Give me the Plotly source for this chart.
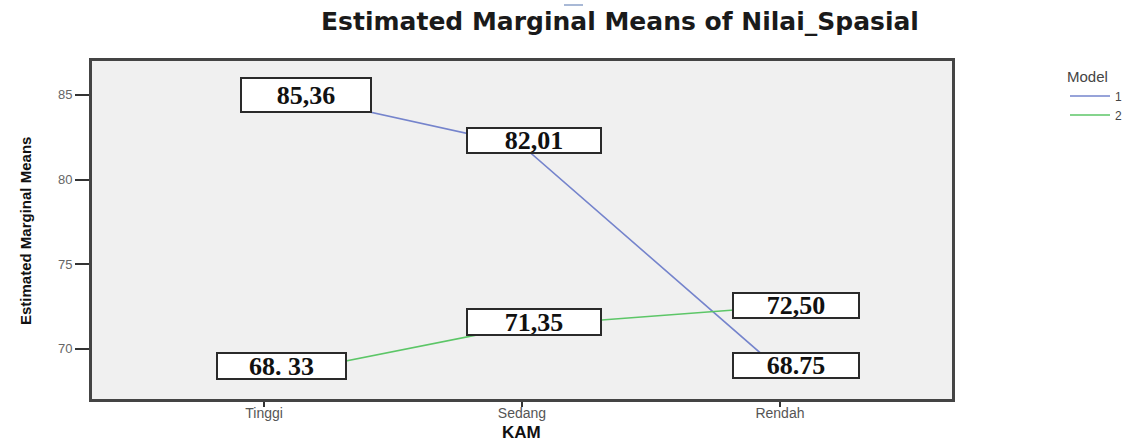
import plotly.graph_objects as go

# ---- data ----
categories = ["Tinggi", "Sedang", "Rendah"]
model_names = ["1", "2"]
model1 = [85.36, 82.01, 68.75]
model2 = [68.33, 71.35, 72.50]
model1_labels = ["85,36", "82,01", "68.75"]
model2_labels = ["68. 33", "71,35", "72,50"]
y_ticks = [70, 75, 80, 85]

# ---- styling (offsets of label boxes, in pixels) ----
colors = ["#7584cc", "#5cc667"]
m1_offsets = [(42, -6), (12, 5.5), (16, 4.6)]
m2_offsets = [(17.5, 11), (12, 4), (16, 1)]
m1_sizes = [(128, 32), (132, 23), (124, 23)]
m2_sizes = [(127, 24), (132, 24), (124, 23)]

W, H = 1142, 441
L, R, T, B = 92, 190, 61, 42
PW = W - L - R
PH = H - T - B

fig = go.Figure()
for name, vals, col in zip(model_names, [model1, model2], colors):
    fig.add_trace(go.Scatter(
        x=categories, y=vals, mode="lines", name=name,
        line=dict(color=col, width=1.6),
    ))

annotations = []
for vals, labels, offs, sizes in [(model1, model1_labels, m1_offsets, m1_sizes),
                                  (model2, model2_labels, m2_offsets, m2_sizes)]:
    for i, (v, lab, (dx, dy), (w, h)) in enumerate(zip(vals, labels, offs, sizes)):
        annotations.append(dict(
            x=categories[i], y=v, xref="x", yref="y",
            xshift=dx, yshift=dy, text="<b>%s</b>" % lab, showarrow=False,
            font=dict(family="Liberation Serif, Times New Roman, serif", size=26, color="#111"),
            bgcolor="white", bordercolor="#2a2a2a", borderwidth=2, borderpad=0,
            width=w, height=h, align="center", valign="middle",
        ))

# axis titles
annotations.append(dict(
    text="<b>KAM</b>", xref="paper", yref="paper",
    x=(521 - L) / PW, y=(H - B - 432) / PH, xanchor="center", yanchor="middle",
    showarrow=False, font=dict(family="Liberation Sans, Arial", size=17, color="#111")))
annotations.append(dict(
    text="<b>Estimated Marginal Means</b>", xref="paper", yref="paper",
    x=(25 - L) / PW, y=(H - B - 231) / PH, xanchor="center", yanchor="middle",
    textangle=-90, showarrow=False,
    font=dict(family="Liberation Sans, Arial", size=15, color="#111")))

fig.update_layout(
    width=W, height=H,
    margin=dict(l=L, r=R, t=T, b=B),
    paper_bgcolor="white", plot_bgcolor="#f0f0f0",
    title=dict(text="<b>Estimated Marginal Means of Nilai_Spasial</b>",
               x=620 / W, xref="container", xanchor="center",
               y=1 - 21 / H, yref="container", yanchor="middle",
               font=dict(family="DejaVu Sans, Arial, sans-serif", size=25, color="#1a1a1a")),
    showlegend=True,
    legend=dict(x=(1065 - L) / PW, y=(H - B - 62) / PH, xanchor="left", yanchor="top",
                title=dict(text="Model", font=dict(family="Liberation Sans, Arial", size=15, color="#444")),
                font=dict(family="Liberation Sans, Arial", size=12, color="#444"),
                bgcolor="rgba(0,0,0,0)", tracegroupgap=0, itemwidth=40),
    annotations=annotations,
    shapes=[dict(type="line", xref="paper", yref="paper",
                 x0=(564 - L) / PW, x1=(583 - L) / PW,
                 y0=(H - B - 5) / PH, y1=(H - B - 5) / PH,
                 line=dict(color="#a9b9d6", width=2))],
)

fig.update_xaxes(
    type="category", range=[-0.667, 2.667], automargin=False,
    showline=True, mirror=True, linecolor="#444", linewidth=3,
    ticks="outside", ticklen=5, tickcolor="#333", tickwidth=1.5,
    ticklabelstandoff=-6,
    tickfont=dict(family="Liberation Sans, Arial", size=14, color="#555"),
    showgrid=False, zeroline=False,
)
fig.update_yaxes(
    range=[67.04, 87.0], tickvals=y_ticks, automargin=False,
    showline=True, mirror=True, linecolor="#444", linewidth=3,
    ticks="outside", ticklen=14, tickcolor="#333", tickwidth=1.5,
    tickfont=dict(family="Liberation Sans, Arial", size=13, color="#666"),
    showgrid=False, zeroline=False,
)

fig.write_html("out.html", config={"displayModeBar": False},
               post_script="document.body.style.margin='0';")
